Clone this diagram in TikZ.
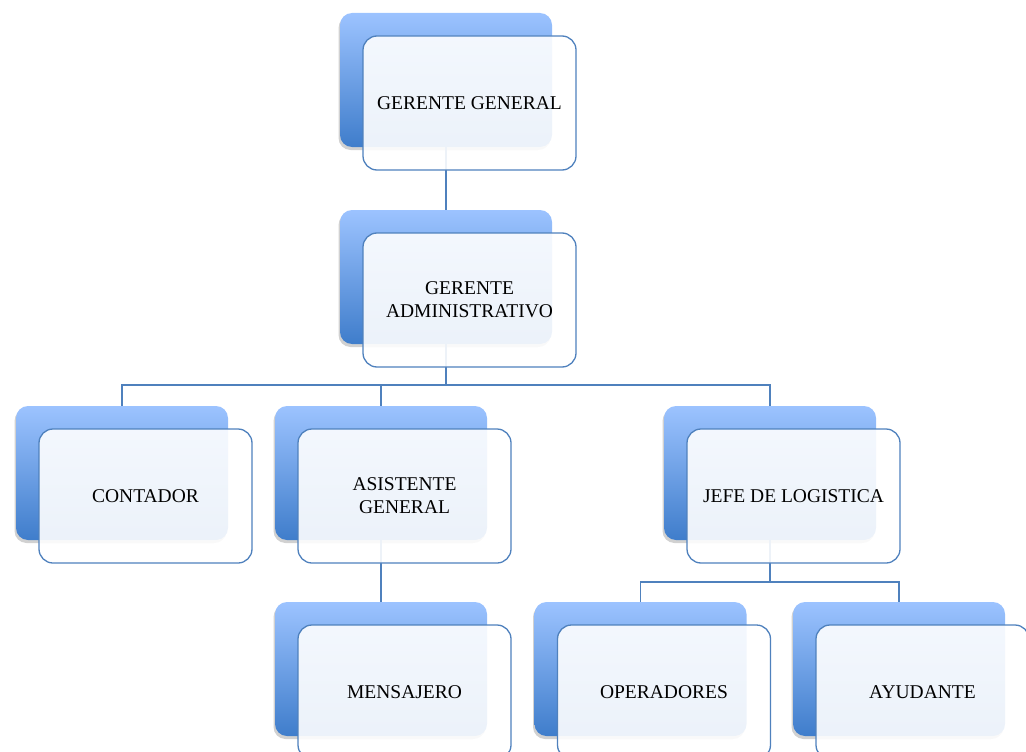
\documentclass[tikz,border=0pt]{standalone}
\usepackage{fontspec}
\setmainfont{Liberation Serif}
\usepackage{tikz}
\usetikzlibrary{positioning,shadows}

\definecolor{boxline}{HTML}{4F81BD}
\definecolor{backtop}{HTML}{9CC3FF}
\definecolor{backbot}{HTML}{3F7DCB}

\begin{document}
\begin{tikzpicture}[x=1pt,y=-1pt,
    backbox/.style={rectangle,rounded corners=12pt,minimum width=212pt,minimum height=134pt,
      top color=backtop,bottom color=backbot,
      drop shadow={shadow xshift=-1.5pt,shadow yshift=-3pt,opacity=0.18,fill=black}},
    frontbox/.style={rectangle,rounded corners=14pt,minimum width=213pt,minimum height=134pt,
      draw=boxline,line width=1.3pt,fill=white,fill opacity=0.9,text opacity=1,
      align=center,font=\fontsize{19.5}{23}\selectfont},
    link/.style={draw=boxline,line width=1.6pt}]
        \clip (0,0) rectangle (1026,752);
        \useasboundingbox (0,0) rectangle (1026,752);

        % back boxes
        \node[backbox] (gg) at (446,80) {};
        \node[backbox] (ga) at (446,277) {};
        \node[backbox] (cont) at (122,473) {};
        \node[backbox] (asis) at (381,473) {};
        \node[backbox] (jefe) at (770,473) {};
        \node[backbox] (mens) at (381,669) {};
        \node[backbox] (oper) at (640.5,669) {};
        \node[backbox] (ayud) at (899,669) {};

        % connectors
        \draw[link] (gg.south) -- (ga.north);
        \foreach \n in {cont,asis,jefe}
          \draw[link] (ga.south) -- ++(0,41) -| (\n.north);
        \draw[link] (asis.south) -- (mens.north);
        \foreach \n in {oper,ayud}
          \draw[link] (jefe.south) -- ++(0,42) -| (\n.north);

        % front boxes with labels
        \node[frontbox] (ggf) at ([shift={(23.5,23)}]gg.center) {GERENTE GENERAL};
        \node[frontbox] (gaf) at ([shift={(23.5,23)}]ga.center) {GERENTE\\ADMINISTRATIVO};
        \node[frontbox] (contf) at ([shift={(23.5,23)}]cont.center) {CONTADOR};
        \node[frontbox] (asisf) at ([shift={(23.5,23)}]asis.center) {ASISTENTE\\GENERAL};
        \node[frontbox] (jefef) at ([shift={(23.5,23)}]jefe.center) {JEFE DE LOGISTICA};
        \node[frontbox] (mensf) at ([shift={(23.5,23)}]mens.center) {MENSAJERO};
        \node[frontbox] (operf) at ([shift={(23.5,23)}]oper.center) {OPERADORES};
        \node[frontbox] (ayudf) at ([shift={(23.5,23)}]ayud.center) {AYUDANTE};
      \end{tikzpicture}
\end{document}
